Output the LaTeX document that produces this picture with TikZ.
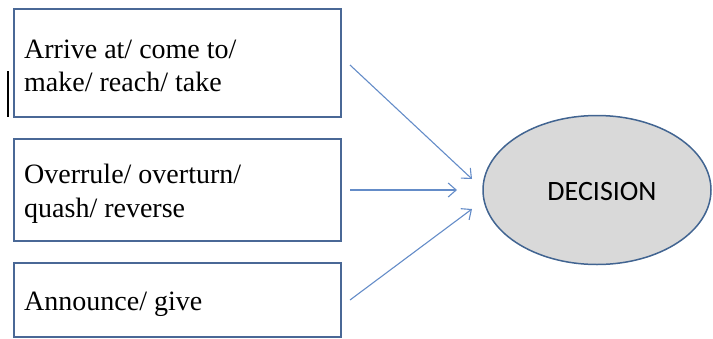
\documentclass[tikz,border=0pt]{standalone}
\usepackage{fontspec}
\setmainfont{Liberation Serif}
\newfontfamily\calib{Carlito}
\usetikzlibrary{arrows.meta,shapes.geometric}
\definecolor{boxblue}{RGB}{74,104,150}
\definecolor{arrowblue}{RGB}{100,140,200}
\definecolor{ellfill}{RGB}{217,217,217}
\definecolor{ellline}{RGB}{65,100,145}
\begin{document}
\begin{tikzpicture}[x=1pt,y=-1pt,
  wordbox/.style={draw=boxblue,line width=2pt,fill=white,minimum width=327pt,inner sep=0pt},
  wordtext/.style={anchor=base west,inner sep=0pt,font=\fontsize{28}{33}\selectfont},
  link/.style={draw=arrowblue,line width=1.1pt,-{Straight Barb[length=8pt,width=14pt]}}]
\useasboundingbox (0,0) rectangle (713,338);
\node[wordbox,minimum height=108pt] (b1) at (177.5,63) {};
\node[wordbox,minimum height=102pt] (b2) at (177.5,190) {};
\node[wordbox,minimum height=74pt] (b3) at (177.5,299.5) {};
\draw[line width=1.5pt] (8,71) -- (8,117);
\node[wordtext] (t1a) at (24,58) {Arrive at/ come to/};
\node[wordtext] (t1b) at (24,91) {make/ reach/ take};
\node[wordtext] (t2a) at (24,183) {Overrule/ overturn/};
\node[wordtext] (t2b) at (24,217) {quash/ reverse};
\node[wordtext] (t3) at (24,310) {Announce/ give};
\node[ellipse,draw=ellline,line width=1.5pt,fill=ellfill,minimum width=228pt,minimum height=149pt,inner sep=0pt] (dec) at (597,190) {};
\node[anchor=base,inner sep=0pt,font=\calib\fontsize{28}{33}\selectfont] (dect) at (602,200) {DECISION};
\coordinate (e1) at (472,179);
\coordinate (e2) at (457,190);
\coordinate (e3) at (472,209);
\draw[link] ([shift={(8,2)}]b1.east) -- (e1);
\draw[link] ([shift={(8,0)}]b2.east) -- (e2);
\draw[link] ([shift={(8,0.5)}]b3.east) -- (e3);
\end{tikzpicture}
\end{document}
